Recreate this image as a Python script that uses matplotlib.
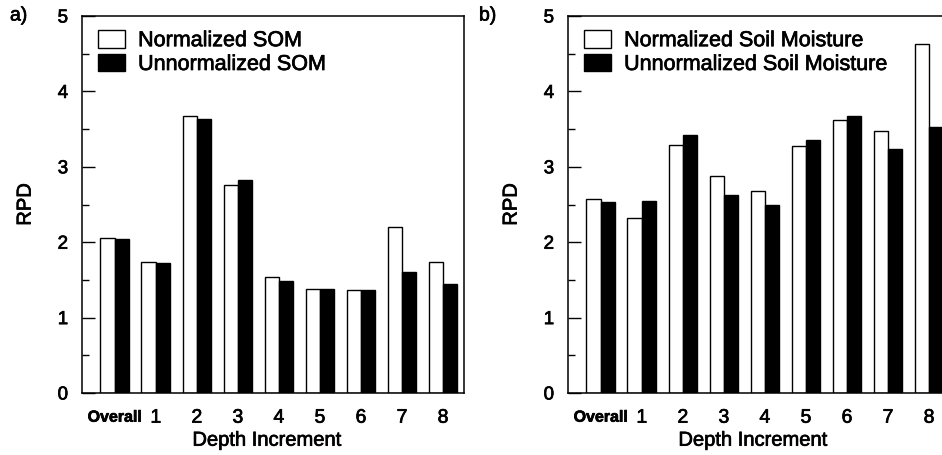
import matplotlib

matplotlib.use("Agg")
import matplotlib.patheffects as pe
import matplotlib.pyplot as plt
import numpy as np
from matplotlib.text import Text
from matplotlib.ticker import MultipleLocator

plt.rcParams["font.family"] = ["Liberation Sans", "DejaVu Sans"]

categories = ["Overall", "1", "2", "3", "4", "5", "6", "7", "8"]

som_norm = [2.05, 1.74, 3.67, 2.76, 1.54, 1.38, 1.37, 2.20, 1.74]
som_unnorm = [2.04, 1.73, 3.64, 2.82, 1.49, 1.38, 1.37, 1.60, 1.45]

sm_norm = [2.57, 2.32, 3.29, 2.88, 2.68, 3.27, 3.62, 3.48, 4.63]
sm_unnorm = [2.53, 2.55, 3.42, 2.63, 2.49, 3.35, 3.67, 3.23, 3.53]

W = 942
H = 456
BAR_W = 0.35


def draw_panel(ax, norm, unnorm, labels, tag, tag_x):
    x = np.arange(len(categories))
    ax.bar(x - BAR_W / 2, norm, BAR_W, color="white", edgecolor="black", linewidth=1.0, label=labels[0])
    ax.bar(x + BAR_W / 2, unnorm, BAR_W, color="black", edgecolor="black", linewidth=1.0, label=labels[1])

    ax.set_xlim(-0.8, 8.51)
    ax.set_ylim(0, 5)
    ax.yaxis.set_major_locator(MultipleLocator(1))
    ax.yaxis.set_minor_locator(MultipleLocator(0.5))
    ax.tick_params(axis="y", which="major", direction="in", length=9, width=1.0, labelsize=13.5, pad=10)
    ax.tick_params(axis="y", which="minor", direction="in", length=5, width=1.0)
    ax.tick_params(axis="x", length=0, labelsize=14, pad=12)
    ax.set_xticks(x)
    ax.set_xticklabels(categories)
    first = ax.get_xticklabels()[0]
    first.set_fontsize(11.5)
    first.set_fontweight("bold")
    for s in ax.spines.values():
        s.set_linewidth(1.1)

    ax.set_ylabel("RPD", fontsize=14.5)
    ax.set_xlabel("Depth Increment", fontsize=14.5)
    ax.yaxis.set_label_coords(-0.124, 0.5)
    ax.xaxis.set_label_coords(0.484, -0.1)

    ax.legend(
        loc="upper left",
        bbox_to_anchor=(0.042, 0.963),
        frameon=False,
        fontsize=15.5,
        borderpad=0,
        borderaxespad=0,
        handlelength=1.26,
        handleheight=0.88,
        handletextpad=0.6,
        labelspacing=0.12,
    )

    ax.figure.text(tag_x / W, 1 - 17 / H, tag, fontsize=14, ha="left", va="center")


fig = plt.figure(figsize=(W / 100, H / 100), dpi=100)
ax_a = fig.add_axes([82 / W, 62 / H, 382 / W, 377 / H])
ax_b = fig.add_axes([568 / W, 62 / H, 382 / W, 377 / H])

draw_panel(ax_a, som_norm, som_unnorm, ["Normalized SOM", "Unnormalized SOM"], "a)", 10)
draw_panel(ax_b, sm_norm, sm_unnorm, ["Normalized Soil Moisture", "Unnormalized Soil Moisture"], "b)", 479)

# the scanned original has heavier type than a plain regular face
for t in fig.findobj(Text):
    t.set_path_effects([pe.withStroke(linewidth=0.5, foreground="black")])

fig.savefig("out.png", dpi=100)
plt.close(fig)
